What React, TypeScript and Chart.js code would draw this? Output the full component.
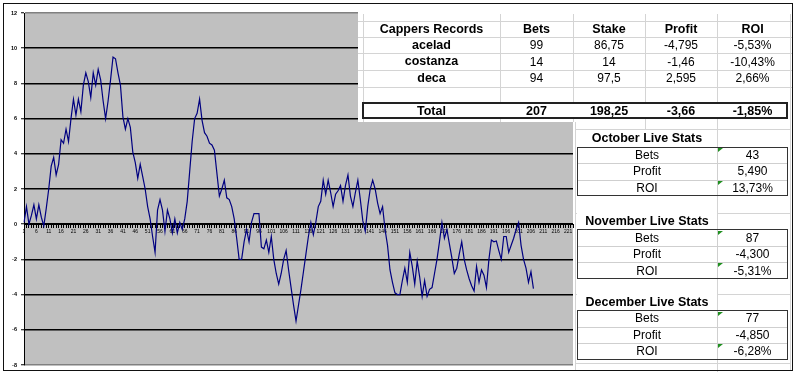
import React, { useEffect, useRef } from "react";
import { Chart, registerables } from "chart.js";
Chart.register(...registerables);

// ---- chart data ----
const categoryCount = 223;
const categories: string[] = Array.from({ length: categoryCount }, (_, i) => String(i + 1));
const cumulativeProfit: number[] = [
  0.1, 1.0, 0.0, 0.5, 1.1, 0.3, 1.1, 0.4, -0.1, 0.9,
  2.0, 3.3, 3.8, 2.8, 3.4, 4.8, 4.6, 5.4, 4.7, 6.0,
  7.1, 6.2, 7.1, 6.4, 7.9, 8.6, 8.1, 7.2, 8.6, 7.9,
  8.8, 8.2, 7.0, 6.0, 7.0, 8.2, 9.5, 9.4, 8.6, 7.9,
  6.1, 5.4, 6.0, 5.5, 4.1, 3.5, 2.6, 3.4, 2.7, 2.0,
  1.0, 0.3, -0.7, -1.6, 0.8, 1.4, 0.8, -0.4, 0.8, 0.3,
  -0.5, 0.3, -0.5, 0.1, -0.3, 0.3, 1.3, 3.0, 4.7, 6.0,
  6.3, 7.1, 5.9, 5.2, 5.0, 4.6, 4.5, 4.2, 2.9, 1.6,
  2.0, 2.5, 1.5, 1.4, 1.0, 0.3, -0.8, -2.0, -2.0, -1.0,
  -0.3, -1.0, 0.1, 0.6, 0.6, 0.6, -1.3, -1.4, -0.9, -1.6,
  -0.7, -2.0, -2.8, -3.4, -2.8, -2.0, -1.5, -2.6, -3.6, -4.6,
  -5.5, -4.6, -3.7, -2.7, -1.7, -0.7, 0.1, -0.6, 0.1, 1.0,
  1.3, 2.5, 1.7, 2.5, 1.8, 1.0, 1.7, 1.9, 2.2, 1.3,
  2.2, 2.8, 1.6, 1.0, 1.8, 2.5, 1.4, 0.2, -0.4, 1.0,
  2.0, 2.5, 2.0, 1.2, 0.6, 1.0, -0.3, -1.2, -2.6, -3.3,
  -3.9, -4.0, -4.0, -3.2, -2.5, -3.3, -1.6, -2.4, -3.4, -2.1,
  -3.0, -4.1, -3.2, -4.1, -3.7, -3.6, -2.8, -2.0, -1.0, 0.1,
  -0.8, -0.3, -1.1, -1.9, -2.8, -2.5, -1.7, -1.0, -2.0, -2.6,
  -3.1, -3.5, -3.8, -2.4, -3.3, -2.6, -2.9, -3.6, -2.0, -0.9,
  -1.0, -0.95, -1.5, -2.0, -0.7, -0.7, -1.6, -1.2, -0.8, -0.3,
  0.1, -1.2, -2.0, -2.5, -3.3, -2.7, -3.66,
];
const yMin = -8;
const yMax = 12;
const yStep = 2;

// ---- table data ----
const capperHeader = ["Cappers Records", "Bets", "Stake", "Profit", "ROI"];
const capperNames = ["acelad", "costanza", "deca"];
const capperBets = ["99", "14", "94"];
const capperStake = ["86,75", "14", "97,5"];
const capperProfit = ["-4,795", "-1,46", "2,595"];
const capperRoi = ["-5,53%", "-10,43%", "2,66%"];
const totalRow = ["Total", "207", "198,25", "-3,66", "-1,85%"];

const monthTitles = ["October Live Stats", "November Live Stats", "December Live Stats"];
const monthLabels = ["Bets", "Profit", "ROI"];
const monthBets = ["43", "87", "77"];
const monthProfit = ["5,490", "-4,300", "-4,850"];
const monthRoi = ["13,73%", "-5,31%", "-6,28%"];

const FONT = 'Arial, "Liberation Sans", sans-serif';

const plotBg = {
  id: "plotBg",
  beforeDraw(chart: any) {
    const { ctx, chartArea } = chart;
    if (!chartArea) return;
    ctx.save();
    ctx.fillStyle = "#c0c0c0";
    ctx.fillRect(chartArea.left, chartArea.top, chartArea.right - chartArea.left, chartArea.bottom - chartArea.top);
    ctx.restore();
  },
};

function Cell(props: { x: number; y: number; w: number; h: number; text: string; bold?: boolean; size?: number; align?: string }) {
  const { x, y, w, h, text, bold, size, align } = props;
  return (
    <div
      style={{
        position: "absolute",
        left: x,
        top: y,
        width: w,
        height: h,
        display: "flex",
        alignItems: "center",
        justifyContent: align || "center",
        fontFamily: FONT,
        fontSize: size || 12,
        fontWeight: bold ? "bold" : "normal",
        color: "#000",
        whiteSpace: "nowrap",
        lineHeight: 1,
      }}
    >
      {text}
    </div>
  );
}

function HLine(props: { x: number; y: number; w: number; color?: string; t?: number }) {
  return (
    <div style={{ position: "absolute", left: props.x, top: props.y, width: props.w, height: props.t || 1, background: props.color || "#d4d4d4" }} />
  );
}
function VLine(props: { x: number; y: number; h: number; color?: string; t?: number }) {
  return (
    <div style={{ position: "absolute", left: props.x, top: props.y, width: props.t || 1, height: props.h, background: props.color || "#d4d4d4" }} />
  );
}
function Tri(props: { x: number; y: number }) {
  return (
    <div
      style={{
        position: "absolute",
        left: props.x,
        top: props.y,
        width: 0,
        height: 0,
        borderTop: "4px solid #1f8f1f",
        borderRight: "5px solid transparent",
      }}
    />
  );
}

export default function App() {
  const canvasRef = useRef<HTMLCanvasElement>(null);

  useEffect(() => {
    const gridColor = (ctx: any) => {
      const v = ctx.tick ? ctx.tick.value : 0;
      return v === yMax || v === yMin ? "#808080" : "#000000";
    };
    const chart = new Chart(canvasRef.current as HTMLCanvasElement, {
      type: "line",
      data: {
        labels: categories,
        datasets: [
          {
            data: cumulativeProfit,
            borderColor: "#000080",
            borderWidth: 1.2,
            pointRadius: 0,
            tension: 0,
            fill: false,
          },
        ],
      },
      options: {
        responsive: false,
        animation: false,
        events: [],
        layout: { padding: { left: 0, right: 227, top: 13, bottom: 12 } },
        plugins: { legend: { display: false }, tooltip: { enabled: false } },
        scales: {
          y: {
            min: yMin,
            max: yMax,
            ticks: {
              stepSize: yStep,
              color: "#000",
              padding: 4,
              font: { family: FONT, size: 5.5, weight: "bold" },
            },
            grid: {
              color: gridColor,
              lineWidth: 1.5,
              drawTicks: true,
              tickLength: 3,
              tickColor: "#000",
              tickWidth: 1,
            },
            border: { display: true, color: "#000", width: 1 },
            afterFit: (scale: any) => {
              scale.width = 24;
            },
          },
          x: {
            type: "category",
            position: { y: 0 } as any,
            offset: false,
            ticks: {
              autoSkip: false,
              maxRotation: 0,
              minRotation: 0,
              color: "#000",
              padding: 1,
              font: { family: FONT, size: 5 },
              callback: (_v: any, i: number) => (i % 5 === 0 ? categories[i] : ""),
            },
            grid: {
              drawOnChartArea: false,
              drawTicks: true,
              tickLength: 3,
              color: "#000",
              lineWidth: 1,
            },
            border: { display: true, color: "#000", width: 1 },
          },
        },
      },
      plugins: [plotBg],
    } as any);
    return () => chart.destroy();
  }, []);

  // top table geometry
  const colX = [363, 500, 573, 645, 717, 788];
  const rowY = [20.7, 37.3, 53.3, 70, 86.7, 102.7, 119];
  const topRows: string[][] = [
    capperHeader,
    ...capperNames.map((n, i) => [n, capperBets[i], capperStake[i], capperProfit[i], capperRoi[i]]),
  ];

  // bottom tables geometry
  const boxTops = [146.7, 229.3, 310];
  const rowH = 16.5;
  const labX = 577;
  const midX = 717;
  const endX = 788;

  return (
    <div style={{ position: "absolute", left: 0, top: 0, width: 800, height: 377, background: "#fff", overflow: "hidden" }}>
      <canvas ref={canvasRef} width={800} height={377} style={{ position: "absolute", left: 0, top: 0, width: 800, height: 377 }} />

      {/* white sheet area of top table */}
      <div style={{ position: "absolute", left: 358, top: 12, width: 440, height: 110, background: "#fff" }} />
      {/* white sheet area right of plot */}
      <div style={{ position: "absolute", left: 574, top: 12, width: 224, height: 365, background: "#fff" }} />

      {/* sheet gridlines top table */}
      {rowY.slice(0, 5).map((y, i) => (
        <HLine key={"th" + i} x={358} y={y} w={435} />
      ))}
      {[363, 500, 573, 645, 717, 790].map((x, i) => (
        <VLine key={"tv" + i} x={x} y={14} h={108} />
      ))}

      {/* sheet gridlines right area */}
      <VLine x={575} y={122} h={249} />
      <VLine x={790} y={122} h={249} />
      <VLine x={645} y={122} h={8} />
      <VLine x={717} y={122} h={250} />
      <HLine x={575} y={129} w={216} />
      <HLine x={575} y={212.7} w={216} />
      <HLine x={575} y={294} w={216} />
      <HLine x={575} y={363} w={216} />

      {/* top table text */}
      {topRows.map((row, r) =>
        row.map((t, c) => (
          <Cell
            key={"tc" + r + "_" + c}
            x={colX[c]}
            y={rowY[r]}
            w={colX[c + 1] - colX[c]}
            h={rowY[r + 1] - rowY[r]}
            text={t}
            bold={r === 0 || c === 0}
            size={r === 0 || c === 0 ? 12.5 : 12}
          />
        ))
      )}
      {/* total box */}
      <div
        style={{
          position: "absolute",
          left: 362,
          top: 102,
          width: 426,
          height: 17,
          border: "2px solid #222",
          boxSizing: "border-box",
          background: "#fff",
        }}
      />
      {totalRow.map((t, c) => (
        <Cell key={"tot" + c} x={colX[c]} y={102.7} w={colX[c + 1] - colX[c]} h={16.3} text={t} bold size={12.5} />
      ))}

      {/* monthly tables */}
      {monthTitles.map((title, m) => {
        const top = boxTops[m];
        const vals = [monthBets[m], monthProfit[m], monthRoi[m]];
        return (
          <React.Fragment key={"m" + m}>
            <div style={{ position: "absolute", left: labX, top: top - 16, width: midX - labX, height: 16, background: "#fff" }} />
            <Cell x={labX} y={top - 16.5} w={midX - labX} h={16.5} text={title} bold size={12.5} />
            <div
              style={{
                position: "absolute",
                left: labX,
                top: top,
                width: endX - labX,
                height: rowH * 3,
                border: "1.5px solid #333",
                boxSizing: "border-box",
                background: "#fff",
              }}
            />
            <HLine x={labX + 1} y={top + rowH} w={endX - labX - 2} color="#cfcfcf" />
            <HLine x={labX + 1} y={top + rowH * 2} w={endX - labX - 2} color="#cfcfcf" />
            <VLine x={midX} y={top + 1} h={rowH * 3 - 2} color="#cfcfcf" />
            {monthLabels.map((lab, r) => (
              <React.Fragment key={"mr" + m + r}>
                <Cell x={labX} y={top + r * rowH} w={midX - labX} h={rowH} text={lab} />
                <Cell x={midX} y={top + r * rowH} w={endX - midX} h={rowH} text={vals[r]} />
              </React.Fragment>
            ))}
            <Tri x={midX + 1} y={top + 1.5} />
            <Tri x={midX + 1} y={top + rowH * 2 + 1} />
          </React.Fragment>
        );
      })}

      {/* outer chart frame */}
      <div
        style={{
          position: "absolute",
          left: 3,
          top: 3,
          width: 790,
          height: 368,
          border: "1.5px solid #111",
          boxSizing: "border-box",
          pointerEvents: "none",
        }}
      />
    </div>
  );
}
